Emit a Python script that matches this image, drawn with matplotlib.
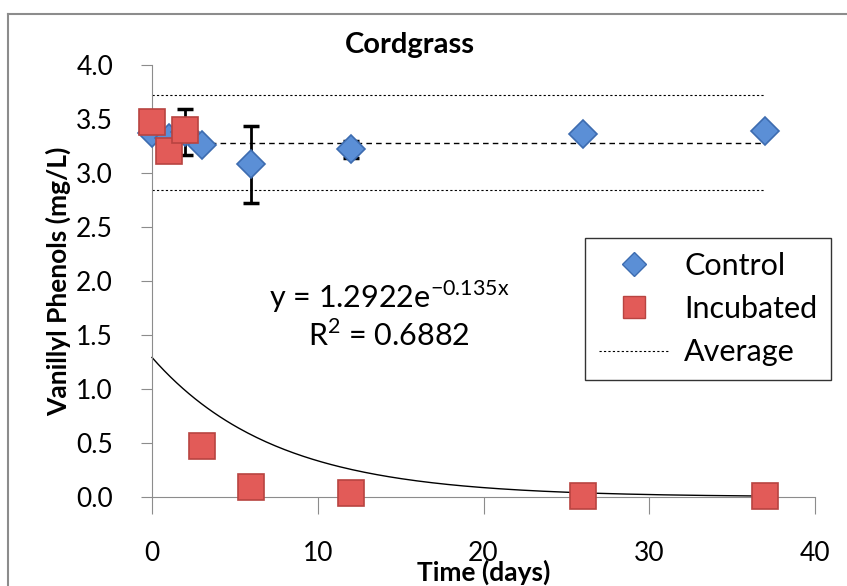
import numpy as np
import matplotlib
matplotlib.use("Agg")
import matplotlib.pyplot as plt
from matplotlib.lines import Line2D

plt.rcParams['font.family'] = ['Lato', 'DejaVu Sans']

# control series
ctrl_days = [0, 1, 2, 3, 6, 12, 26, 37]
ctrl_vals = [3.37, 3.32, 3.38, 3.26, 3.08, 3.22, 3.36, 3.39]
ctrl_err = [0.0, 0.0, 0.21, 0.0, 0.355, 0.08, 0.0, 0.0]

# incubated series
inc_days = [0, 1, 2, 3, 6, 12, 26, 37]
inc_vals = [3.47, 3.20, 3.40, 0.47, 0.09, 0.04, 0.01, 0.01]

# average lines (mean, mean+/-sd)
avg_vals = [3.72, 3.275, 2.84]
avg_span = [0, 37]

fit_a = 1.2922
fit_b = -0.135

fig = plt.figure(figsize=(8.47, 5.86), dpi=100)
ax = fig.add_axes([152/847, 1-497/586, (815-152)/847, (497-65)/586])

# figure frame (top + left)
fig.add_artist(Line2D([8/847, 8/847], [0, 1-14/586], color='#8c8c8c', lw=1.5))
fig.add_artist(Line2D([8/847, 1], [1-14/586, 1-14/586], color='#8c8c8c', lw=1.5))

# average lines
ax.plot(avg_span, [avg_vals[0]]*2, color='black', lw=0.8, ls=(0, (2, 2)))
ax.plot(avg_span, [avg_vals[1]]*2, color='black', lw=1.0, ls=(0, (4, 3)))
ax.plot(avg_span, [avg_vals[2]]*2, color='black', lw=0.8, ls=(0, (2, 2)))

# fit curve
xs = np.linspace(0, 37, 200)
ax.plot(xs, fit_a*np.exp(fit_b*xs), color='black', lw=1.0)

# control with error bars
for x, y, e in zip(ctrl_days, ctrl_vals, ctrl_err):
    if e > 0:
        ax.errorbar(x, y, yerr=e, fmt='none', ecolor='black', elinewidth=2, capsize=6, capthick=2.5, zorder=3)
ax.plot(ctrl_days, ctrl_vals, ls='none', marker='D', ms=14, mfc='#5b8fd6', mec='#3d6cb0', mew=1.2, zorder=4)

ax.plot(inc_days, inc_vals, ls='none', marker='s', ms=19, mfc='#e25b58', mec='#b84441', mew=1.2, zorder=5)

ax.set_xlim(0, 40)
ax.set_ylim(0, 4.0)
ax.set_xticks([0, 10, 20, 30, 40])
ax.set_yticks(np.arange(0, 4.01, 0.5))
ax.set_yticklabels([f'{v:.1f}' for v in np.arange(0, 4.01, 0.5)])

for s in ['top', 'right']:
    ax.spines[s].set_visible(False)
ax.spines['left'].set_color('#8c8c8c')
ax.spines['bottom'].set_color('#8c8c8c')
ax.tick_params(axis='y', direction='out', length=8, color='#8c8c8c', labelsize=19, pad=20)
ax.tick_params(axis='x', direction='out', length=12, color='#8c8c8c', labelsize=19, pad=20)
for a in ax.lines:
    a.set_clip_on(False)

fig.text(410/847, 1-45/586, 'Cordgrass', fontsize=21, fontweight='bold', ha='center', va='center')
ax.set_ylabel('Vanillyl Phenols (mg/L)', fontsize=19, fontweight='bold', labelpad=4)
ax.set_xlabel('Time (days)', fontsize=19, fontweight='bold', labelpad=-5)

ax.text(14.3, 1.85, r'y = 1.2922e$^{\mathregular{-0.135x}}$', fontsize=22, ha='center', va='center')
ax.text(14.3, 1.50, r'R$^{\mathregular{2}}$ = 0.6882', fontsize=22, ha='center', va='center')

handles = [
    Line2D([], [], ls='none', marker='D', ms=12, mfc='#5b8fd6', mec='#3d6cb0'),
    Line2D([], [], ls='none', marker='s', ms=16, mfc='#e25b58', mec='#b84441'),
    Line2D([], [], color='black', lw=0.8, ls=(0, (2, 2))),
]
leg = ax.legend(handles, ['Control', 'Incubated', 'Average'], loc='upper left',
                bbox_to_anchor=((585-152)/663, 1-(238-65)/432), fontsize=22,
                frameon=True, fancybox=False, edgecolor='black', handlelength=2.3,
                labelspacing=0.5, borderpad=0.45, handletextpad=0.5, borderaxespad=0)
leg.get_frame().set_linewidth(1.0)

fig.savefig('out.png', dpi=100)
